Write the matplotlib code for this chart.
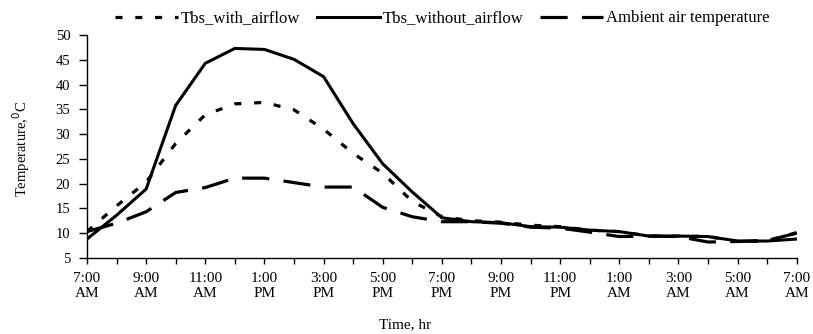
import numpy as np
import matplotlib.pyplot as plt

hours = np.arange(25)
tick_labels = ['7:00\nAM', '9:00\nAM', '11:00\nAM', '1:00\nPM', '3:00\nPM', '5:00\nPM', '7:00\nPM',
               '9:00\nPM', '11:00\nPM', '1:00\nAM', '3:00\nAM', '5:00\nAM', '7:00\nAM']

tbs_with = [10.3, 15.5, 20.3, 28.1, 33.9, 36.1, 36.4, 34.9, 31.0, 26.1, 22.1, 16.4, 13.3,
            12.5, 12.2, 11.6, 11.3, 10.6, 10.3, 9.4, 9.4, 9.3, 8.3, 8.4, 10.1]
tbs_without = [8.8, 13.6, 18.9, 35.8, 44.3, 47.3, 47.1, 45.1, 41.6, 32.1, 24.0, 18.3, 13.1,
               12.3, 12.1, 11.3, 11.2, 10.6, 10.3, 9.4, 9.4, 9.3, 8.4, 8.4, 8.8]
ambient = [10.3, 12.0, 14.3, 18.2, 19.2, 21.1, 21.1, 20.2, 19.3, 19.3, 15.2, 13.3, 12.3,
           12.3, 12.0, 11.2, 11.0, 10.2, 9.3, 9.4, 9.3, 8.2, 8.3, 8.5, 10.0]

plt.rcParams['font.family'] = ['Liberation Serif', 'DejaVu Serif']

fig = plt.figure(figsize=(8.13, 3.34), dpi=100)
ax = fig.add_axes([0.107, 0.228, 0.873, 0.667])

ax.plot(hours, tbs_with, color='black', lw=2.3, dashes=(2.2, 4.0), label='Tbs_with_airflow')
ax.plot(hours, tbs_without, color='black', lw=2.2, label='Tbs_without_airflow')
ax.plot(hours, ambient, color='black', lw=2.3, dashes=(8.5, 4.5), label='Ambient air temperature')

ax.set_xlim(0, 24)
ax.set_ylim(5, 50)
ax.set_yticks(np.arange(5, 51, 5))
ax.set_xticks(np.arange(0, 25, 2))
ax.set_xticklabels(tick_labels)
ax.set_xticks(np.arange(0, 25, 1), minor=True)
ax.tick_params(axis='x', which='both', direction='out', labelsize=11, length=4, width=1, pad=6)
ax.tick_params(axis='y', which='both', direction='out', labelsize=10.5, length=6, width=1, pad=6)

for s in ['top', 'right']:
    ax.spines[s].set_visible(False)
for s in ['left', 'bottom']:
    ax.spines[s].set_linewidth(1.0)

ax.set_xlabel('Time, hr', fontsize=11)
ax.xaxis.set_label_coords(0.448, -0.27)
ax.set_ylabel('Temperature,$^0$C', fontsize=10.5)
ax.yaxis.set_label_coords(-0.078, 0.49)

ax.legend(loc='center', bbox_to_anchor=(0.5, 1.075), ncol=3, frameon=False, fontsize=12,
          handlelength=3.8, columnspacing=1.0, handletextpad=0.15, borderaxespad=0.0)

fig.savefig('out.png', dpi=100)
